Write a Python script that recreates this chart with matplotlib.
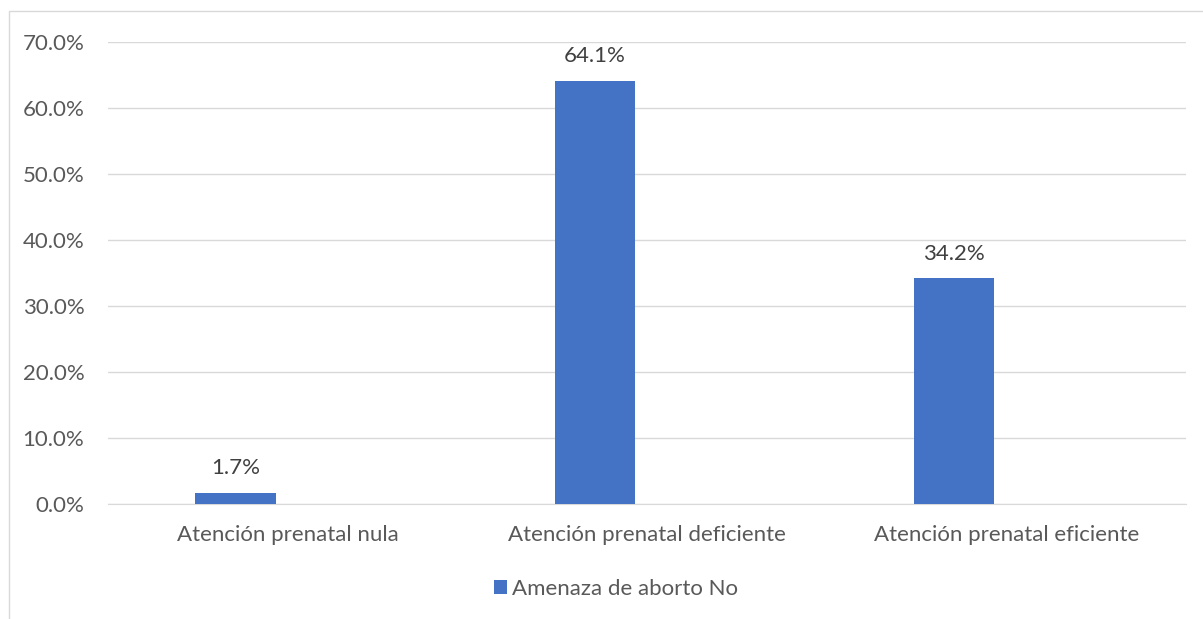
import numpy as np
import matplotlib
matplotlib.use("Agg")
import matplotlib.pyplot as plt
from matplotlib.patches import Rectangle
from matplotlib.ticker import FuncFormatter

categories = ["Atención prenatal nula", "Atención prenatal deficiente", "Atención prenatal eficiente"]
values = [1.7, 64.1, 34.2]
series_name = "Amenaza de aborto No"
yticks = [0, 10, 20, 30, 40, 50, 60, 70]

plt.rcParams['font.family'] = ['Lato', 'DejaVu Sans']
text_color = '#595959'
bar_color = '#4472C4'
fs = 16

W, H = 1203, 619
fig = plt.figure(figsize=(W / 100, H / 100), dpi=100)

# chart border (light gray, clipped on right and bottom)
fig.patches.append(Rectangle((9 / W, -0.1), 1.2, 1 - 11 / H + 0.1,
                             transform=fig.transFigure, fill=False,
                             edgecolor='#D9D9D9', linewidth=1))

ax = fig.add_axes([108 / W, 1 - 504 / H, (1186 - 108) / W, (504 - 42) / H])

x = np.arange(len(categories))
ax.bar(x - 0.145, values, width=0.223, color=bar_color, label=series_name, zorder=3)

for xi, v in zip(x, values):
    ax.annotate(f"{v:.1f}%", (xi - 0.145, v), xytext=(0, 13.5), textcoords='offset points',
                ha='center', va='baseline', fontsize=fs, color='#404040')

ax.set_xlim(-0.5, 2.5)
ax.set_ylim(0, 70)
ax.set_yticks(yticks)
ax.yaxis.set_major_formatter(FuncFormatter(lambda v, p: f"{v:.1f}%"))
ax.set_xticks(x)
ax.set_xticklabels(categories)
ax.grid(axis='y', color='#D9D9D9', linewidth=1, zorder=0)
for s in ['top', 'right', 'left']:
    ax.spines[s].set_visible(False)
ax.spines['bottom'].set_color('#D9D9D9')
ax.tick_params(axis='both', length=0, colors=text_color, labelsize=fs)
ax.tick_params(axis='y', pad=17)
ax.tick_params(axis='x', pad=15)

fig.legend(handles=ax.get_legend_handles_labels()[0], labels=[series_name],
           loc='center', bbox_to_anchor=(616 / W, 1 - 589 / H), frameon=False,
           fontsize=fs, labelcolor=text_color, handlelength=0.6, handleheight=0.6,
           handletextpad=0.25)

fig.savefig("out.png", dpi=100)
